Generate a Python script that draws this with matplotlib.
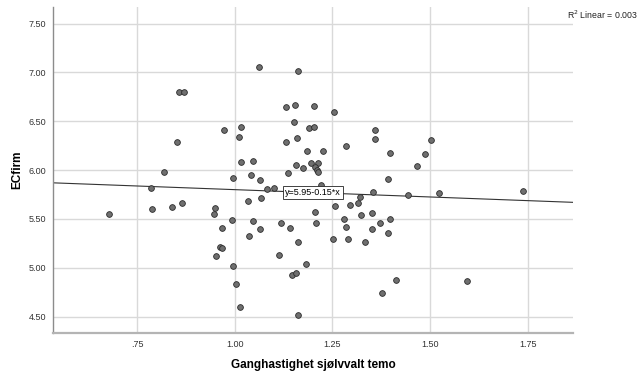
import numpy as np
import matplotlib
matplotlib.use("Agg")
import matplotlib.pyplot as plt

plt.rcParams['font.family'] = ['Liberation Sans', 'DejaVu Sans']

# walking speed (self-selected tempo) vs ECfirm
gait_speed = [
    0.677, 0.786, 0.789, 0.839, 0.866, 0.949, 0.948, 0.953, 0.961, 0.968,
    0.968, 0.993, 0.995, 1.004, 1.014, 0.857, 0.870, 0.852, 0.818, 1.062,
    1.163, 1.130, 1.155, 1.203, 1.255, 0.973, 1.017, 1.011, 1.151, 1.189,
    1.204, 1.130, 1.158, 1.358, 1.358, 1.284, 1.185, 1.227, 1.397, 1.466,
    1.016, 1.046, 1.156, 1.196, 1.213, 1.175, 1.205, 1.210, 1.212, 1.137,
    0.995, 1.041, 1.064, 1.393, 1.083, 1.100, 1.221, 1.354, 1.444, 1.033,
    1.067, 1.321, 1.502, 1.488, 1.523, 1.738, 1.594, 1.046, 1.036, 1.064,
    1.114, 1.118, 1.141, 1.162, 1.147, 1.157, 1.183, 1.163, 1.205, 1.208,
    1.257, 1.251, 1.280, 1.285, 1.290, 1.296, 1.316, 1.324, 1.352, 1.350,
    1.333, 1.372, 1.391, 1.398, 1.377, 1.413,
]
ecfirm = [
    5.553, 5.819, 5.598, 5.625, 5.666, 5.611, 5.553, 5.118, 5.213, 5.208,
    5.410, 5.492, 5.015, 4.831, 4.602, 6.798, 6.801, 6.289, 5.976, 7.056,
    7.009, 6.647, 6.668, 6.654, 6.590, 6.406, 6.443, 6.340, 6.494, 6.426,
    6.440, 6.289, 6.324, 6.412, 6.314, 6.245, 6.191, 6.194, 6.171, 6.041,
    6.079, 6.095, 6.051, 6.075, 6.072, 6.017, 6.031, 6.005, 5.980, 5.972,
    5.918, 5.952, 5.898, 5.908, 5.809, 5.819, 5.847, 5.772, 5.744, 5.688,
    5.717, 5.724, 6.307, 6.161, 5.762, 5.782, 4.868, 5.482, 5.322, 5.394,
    5.127, 5.461, 5.407, 5.264, 4.923, 4.950, 5.036, 4.520, 5.571, 5.455,
    5.632, 5.295, 5.502, 5.420, 5.298, 5.645, 5.666, 5.537, 5.563, 5.400,
    5.267, 5.461, 5.359, 5.502, 4.739, 4.875,
]

x_ticks = [0.75, 1.00, 1.25, 1.50, 1.75]
x_tick_labels = [".75", "1.00", "1.25", "1.50", "1.75"]
y_ticks = [4.50, 5.00, 5.50, 6.00, 6.50, 7.00, 7.50]
y_tick_labels = ["4.50", "5.00", "5.50", "6.00", "6.50", "7.00", "7.50"]

intercept = 5.95
slope = -0.15
r2_text = "R$^2$ Linear = 0.003"
fit_label = "y=5.95-0.15*x"

fig = plt.figure(figsize=(6.39, 3.78), dpi=100)
ax = fig.add_axes([0.083, 0.119, 0.814, 0.862])

xmin, xmax = 0.535, 1.866
ymin, ymax = 4.333, 7.667
ax.set_xlim(xmin, xmax)
ax.set_ylim(ymin, ymax)

ax.set_xticks(x_ticks)
ax.set_xticklabels(x_tick_labels)
ax.set_yticks(y_ticks)
ax.set_yticklabels(y_tick_labels)
ax.tick_params(length=0, labelsize=6.5, colors='#333333', pad=5)

ax.grid(True, color='#d9d9d9', linewidth=1.0)
ax.set_axisbelow(True)

for side in ['top', 'right']:
    ax.spines[side].set_visible(False)
ax.spines['left'].set_color('#8c8c8c')
ax.spines['left'].set_linewidth(1.0)
ax.spines['bottom'].set_color('#b4b4b4')
ax.spines['bottom'].set_linewidth(1.6)

# fit line
lx = np.array([xmin, xmax])
ax.plot(lx, intercept + slope * lx, color='#333333', linewidth=0.8, zorder=2)

ax.scatter(gait_speed, ecfirm, s=17, facecolor='#6f6f6f', edgecolor='#2b2b2b',
           linewidth=0.6, zorder=3)

ax.text(1.200, intercept + slope * 1.200, fit_label, fontsize=6.5, ha='center', va='center',
        zorder=4, bbox=dict(boxstyle='square,pad=0.25', facecolor='white',
                            edgecolor='#222222', linewidth=0.6))

fig.text(0.998, 0.962, r2_text, fontsize=6.3, ha='right', va='center', color='#222222')

ax.set_xlabel("Ganghastighet sjølvvalt temo", fontsize=8.5, fontweight='bold', labelpad=7)
ax.set_ylabel("ECfirm", fontsize=8.5, fontweight='bold', labelpad=4)

fig.savefig("out.png", dpi=100)
